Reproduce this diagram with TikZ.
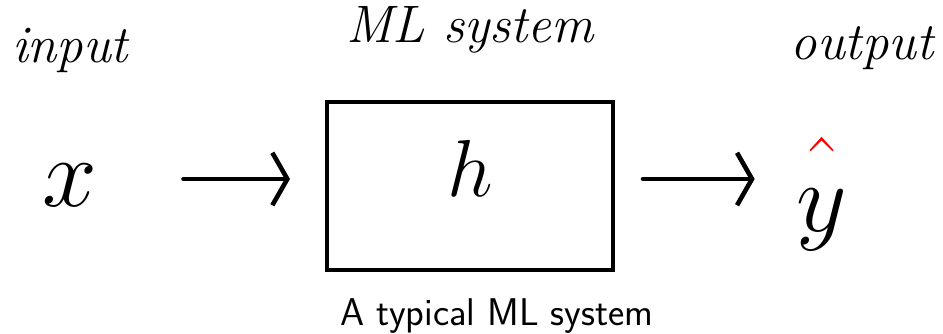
\RequirePackage{fix-cm}
\documentclass[tikz,border=0pt]{standalone}
\usepackage{xcolor}
\usepackage{amsmath, amssymb}
\usepackage{tikz}
\usetikzlibrary{arrows.meta, positioning}
\tikzset{
  hand/.style    = {font=\fontsize{30}{36}\selectfont\itshape, inner sep=0pt},
  symb/.style    = {font=\fontsize{56}{60}\selectfont, inner sep=1pt},
  system/.style  = {rectangle, draw=black, line width=2.3pt,
                    minimum width=5.72cm, minimum height=3.36cm, text depth=0.7cm,
                    font=\fontsize{46}{50}\selectfont},
  arrow/.style   = {-{Straight Barb[length=3mm, width=10.5mm]}, line width=2.6pt,
                    line cap=round, line join=round},
  caption/.style = {font=\fontsize{22}{26}\selectfont\sffamily, inner sep=0pt},
}

\begin{document}
\begin{tikzpicture}

  \useasboundingbox (0,0) rectangle (18.86,6.68);

  % Handwritten headings
  \node[hand] (inlbl)  at (1.40,5.68)  {input};
  \node[hand] (syslbl) at (9.40,6.08)  {ML system};
  \node[hand] (outlbl) at (17.24,5.72) {output};

  % Input, model and prediction
  \node[symb]   (x)    at (1.40,2.98)  {$x$};
  \node[system] (box)  at (9.40,2.96)  {$h$};
  \node[symb]   (yhat) at (16.44,2.80) {$\textcolor{red}{\hat{\textcolor{black}{\vphantom{h}y}}}$};

  % Arrows
  \draw[arrow, shorten <=1.68cm, shorten >=0.7cm] ([yshift=1.4mm]box.west -| x.east) -- ([yshift=1.4mm]box.west);
  \draw[arrow, shorten <=0.56cm, shorten >=0.8cm] ([yshift=1.4mm]box.east) -- ([yshift=1.4mm]box.east -| yhat.west);

  % Caption
  \node[caption, anchor=base] (cap) at (9.94,0.17) {A typical ML system};

\end{tikzpicture}
\end{document}
